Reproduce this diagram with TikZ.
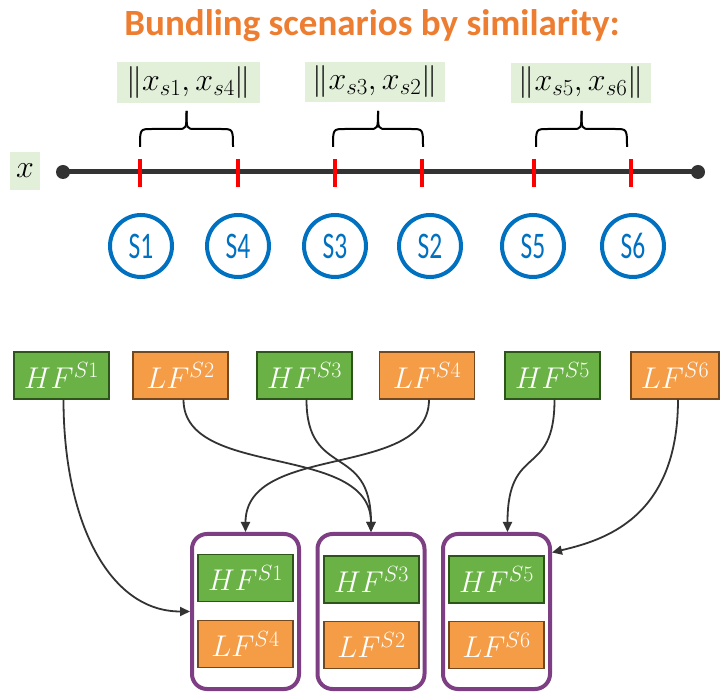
\RequirePackage{fix-cm}
\documentclass[tikz,border=0pt]{standalone}
\usepackage{fontspec}
\usepackage{graphicx}
\setmainfont{Carlito}
\DeclareMathSizes{30}{30}{22}{17}
\DeclareMathSizes{32}{32}{23}{18}
\usetikzlibrary{arrows.meta}
\definecolor{titleor}{RGB}{237,125,49}
\definecolor{lgreen}{RGB}{226,240,217}
\definecolor{hfgreen}{RGB}{106,178,69}
\definecolor{hfborder}{RGB}{45,85,25}
\definecolor{lforange}{RGB}{245,157,70}
\definecolor{lfborder}{RGB}{115,72,30}
\definecolor{sblue}{RGB}{0,112,192}
\definecolor{bpurple}{RGB}{126,62,132}
\definecolor{axisgray}{RGB}{51,51,51}
\begin{document}
\begin{tikzpicture}[x=1pt,y=-1pt,
  titletext/.style={text=titleor,font=\fontsize{37}{40}\selectfont\bfseries},
  lbl/.style={fill=lgreen,draw=none,inner sep=0pt,font=\fontsize{32}{34}\selectfont},
  scen/.style={circle,draw=sblue,line width=4pt,minimum size=62pt,inner sep=0pt,text=sblue},
  hfbox/.style={rectangle,fill=hfgreen,draw=hfborder,line width=1.2pt,minimum width=95pt,minimum height=47pt,inner sep=0pt,text=white,font=\fontsize{30}{32}\selectfont},
  lfbox/.style={rectangle,fill=lforange,draw=lfborder,line width=1.2pt,minimum width=95pt,minimum height=47pt,inner sep=0pt,text=white,font=\fontsize{30}{32}\selectfont},
  bundle/.style={rectangle,rounded corners=15pt,draw=bpurple,line width=4pt,minimum width=107pt,minimum height=155pt,inner sep=0pt},
  axisline/.style={line width=5pt,draw=axisgray},
  tickmark/.style={line width=3.5pt,draw=red},
  bracepath/.style={line width=2pt,draw=black},
  conn/.style={line width=1.8pt,draw=axisgray,-{Triangle[length=10pt,width=9pt]}},
]
\useasboundingbox (0,0) rectangle (721,692);

% title
\node[titletext] (title) at (372,26) {Bundling scenarios by similarity:};

% distance labels
\node[lbl,minimum width=143pt,minimum height=41pt] (d14) at (188.5,82.5) {$\|x_{s1},x_{s4}\|$};
\node[lbl,minimum width=140pt,minimum height=40pt] (d32) at (375,82) {$\|x_{s3},x_{s2}\|$};
\node[lbl,minimum width=140pt,minimum height=40pt] (d56) at (581,83) {$\|x_{s5},x_{s6}\|$};

% braces
\foreach \a/\b in {140/233,333/423,536/627}{
  \pgfmathsetmacro{\m}{(\a+\b)/2}
  \draw[bracepath] (\a,147) .. controls (\a,129) .. (\a+12,129) -- (\m-9,129) .. controls (\m,129) .. (\m,111);
  \draw[bracepath] (\b,147) .. controls (\b,129) .. (\b-12,129) -- (\m+9,129) .. controls (\m,129) .. (\m,111);
}

% axis
\node[lbl,minimum width=30pt,minimum height=38pt] (xl) at (25,171) {$x$};
\coordinate (axL) at (63,172);
\coordinate (axR) at (698,172);
\draw[axisline] (axL) -- (axR);
\fill[axisgray] (axL) circle (7);
\fill[axisgray] (axR) circle (7);
\foreach \t in {140,238,335,422,534,631}{
  \draw[tickmark] (\t,159) -- (\t,187);
}

% scenario circles
\newcommand{\slab}[1]{\scalebox{0.85}[1.25]{\fontsize{30}{30}\selectfont #1}}
\node[scen] (s1) at (141,246) {\slab{S1}};
\node[scen] (s4) at (238,246) {\slab{S4}};
\node[scen] (s3) at (335,246) {\slab{S3}};
\node[scen] (s2) at (430,246) {\slab{S2}};
\node[scen] (s5) at (533,246) {\slab{S5}};
\node[scen] (s6) at (633,246) {\slab{S6}};

% top feature boxes
\node[hfbox] (hf1) at (61.5,375.5) {$HF^{S1}$};
\node[lfbox] (lf2) at (180.5,375.5) {$LF^{S2}$};
\node[hfbox] (hf3) at (304.5,375.5) {$HF^{S3}$};
\node[lfbox] (lf4) at (427,375.5) {$LF^{S4}$};
\node[hfbox] (hf5) at (552.5,375.5) {$HF^{S5}$};
\node[lfbox,minimum width=88pt] (lf6) at (675,375.5) {$LF^{S6}$};

% bundles
\node[bundle] (b1) at (245.5,611.5) {};
\node[bundle] (b2) at (371,611.5) {};
\node[bundle] (b3) at (496.5,611.5) {};
\node[hfbox] (b1h) at (245.5,578) {$HF^{S1}$};
\node[lfbox] (b1l) at (245.5,644) {$LF^{S4}$};
\node[hfbox] (b2h) at (371.5,579.5) {$HF^{S3}$};
\node[lfbox] (b2l) at (371.5,645) {$LF^{S2}$};
\node[hfbox] (b3h) at (496.5,579.5) {$HF^{S5}$};
\node[lfbox] (b3l) at (496.5,645) {$LF^{S6}$};

% connectors
\draw[conn] ([xshift=2pt]hf1.south) .. controls +(0,120) and +(-82,0) .. (b1.west);
\draw[conn] ([xshift=3pt]lf2.south) .. controls +(0,80) and +(0,-90) .. (b2.north);
\draw[conn] ([xshift=2pt]hf3.south) .. controls +(0,80) and +(0,-90) .. (b2.north);
\draw[conn] ([xshift=2pt]lf4.south) .. controls +(0,80) and +(0,-90) .. (b1.north);
\draw[conn] ([xshift=2pt]hf5.south) .. controls +(0,80) and +(0,-90) .. ([xshift=11pt]b3.north);
\draw[conn] ([xshift=3pt]lf6.south) .. controls +(0,120) and +(50,-12) .. ([yshift=59pt]b3.east);
\end{tikzpicture}
\end{document}
